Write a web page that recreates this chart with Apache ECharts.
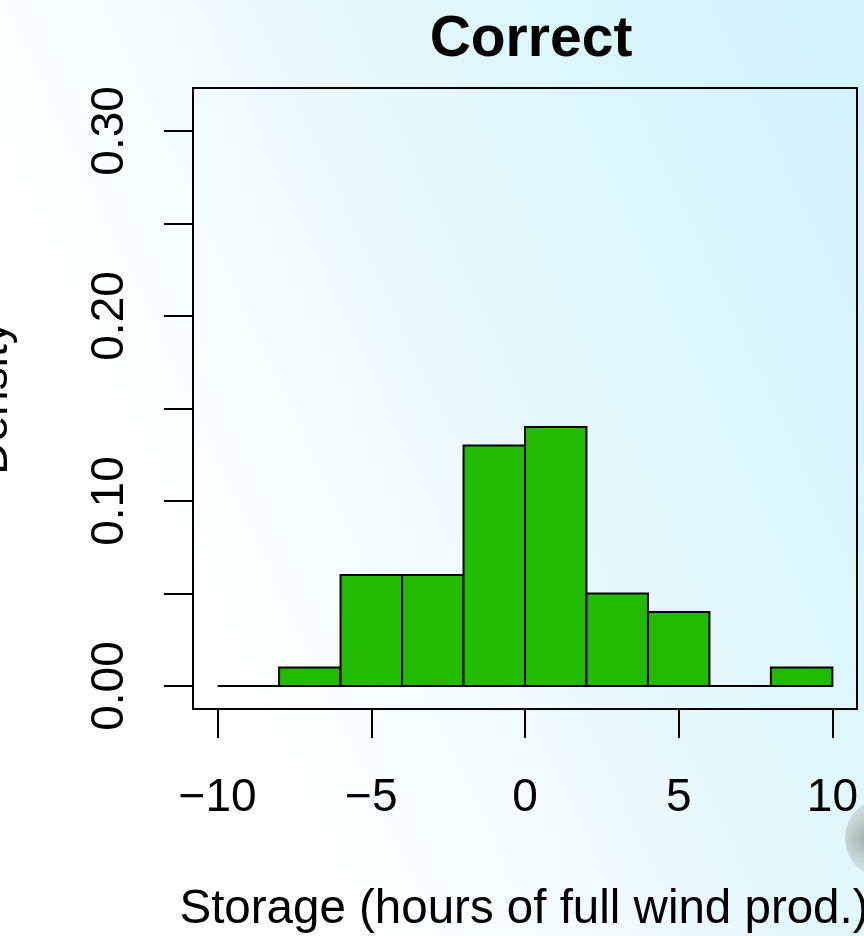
<!DOCTYPE html>
<html>
<head>
<meta charset="utf-8">
<script src="https://cdn.jsdelivr.net/npm/echarts@6/dist/echarts.min.js"></script>
<style>
html,body{margin:0;padding:0;width:864px;height:936px;overflow:hidden;}
#chart{width:864px;height:936px;background:linear-gradient(65deg,#ffffff 28%,#e6f8fd 60%,#d2f2fc 95%);}
</style>
</head>
<body>
<div id="chart"></div>
<script>
// Histogram bins (hours) and densities
const binEdges = [-10, -8, -6, -4, -2, 0, 2, 4, 6, 8, 10];
const densities = [0, 0.01, 0.06, 0.06, 0.13, 0.14, 0.05, 0.04, 0, 0.01];
const xTicks = [-10, -5, 0, 5, 10];
const yTicks = [0, 0.05, 0.10, 0.15, 0.20, 0.25, 0.30];
const yLabels = [0, 0.10, 0.20, 0.30];
const titleText = 'Correct';
const xName = 'Storage (hours of full wind prod.)';
const yName = 'Density';

const bars = densities.map((d, i) => [binEdges[i], binEdges[i + 1], d]);

const chart = echarts.init(document.getElementById('chart'));
const FONT = 'Liberation Sans, Arial, Helvetica, sans-serif';
chart.setOption({
  backgroundColor: 'transparent',
  animation: false,
  title: {
    text: titleText, left: 526, top: 7, textAlign: 'center',
    textStyle: {fontFamily: FONT, fontSize: 57, fontWeight: 'bold', color: '#000'}
  },
  grid: {left: 193, right: 7, top: 88, bottom: 227, show: true, borderColor: '#000', borderWidth: 2, backgroundColor: 'transparent'},
  xAxis: {
    type: 'value', min: -10.8, max: 10.8,
    axisLine: {show: false, onZero: false},
    splitLine: {show: false},
    axisTick: {show: true, customValues: xTicks, length: 29, lineStyle: {color: '#000', width: 2}},
    axisLabel: {show: true, customValues: xTicks, margin: 66, fontFamily: FONT, fontSize: 46, color: '#000',
      formatter: v => (v < 0 ? '\u2212' + Math.abs(v) : String(v))}
  },
  yAxis: {
    type: 'value', min: -0.0124, max: 0.3232,
    axisLine: {show: false, onZero: false},
    splitLine: {show: false},
    axisTick: {show: true, customValues: yTicks, length: 29, lineStyle: {color: '#000', width: 2}},
    axisLabel: {show: true, customValues: yLabels, rotate: 90, margin: 60, fontFamily: FONT, fontSize: 46, color: '#000',
      formatter: v => v.toFixed(2)}
  },
  graphic: [
    {type: 'text', x: -6, y: 398, rotation: Math.PI / 2,
      style: {text: yName, fontFamily: FONT, fontSize: 46, fill: '#000', align: 'center', verticalAlign: 'middle'}},
    {type: 'text', x: 524, y: 910,
      style: {text: xName, fontFamily: FONT, fontSize: 47.5, fill: '#000', align: 'center', verticalAlign: 'middle'}},
    {type: 'circle', shape: {cx: 885, cy: 838, r: 40}, z: -1,
      style: {fill: new echarts.graphic.RadialGradient(0.3, 0.5, 0.6, [
        {offset: 0, color: 'rgba(150,160,150,0.9)'}, {offset: 1, color: 'rgba(200,215,210,0.2)'}])}}
  ],
  series: [{
    type: 'custom',
    data: bars,
    renderItem: function (params, api) {
      const p0 = api.coord([api.value(0), api.value(2)]);
      const p1 = api.coord([api.value(1), 0]);
      return {
        type: 'rect',
        shape: {x: p0[0], y: p0[1], width: p1[0] - p0[0], height: p1[1] - p0[1]},
        style: {fill: '#22bb00', stroke: '#000', lineWidth: 2}
      };
    },
    encode: {x: [0, 1], y: 2}
  }]
});
</script>
</body>
</html>
